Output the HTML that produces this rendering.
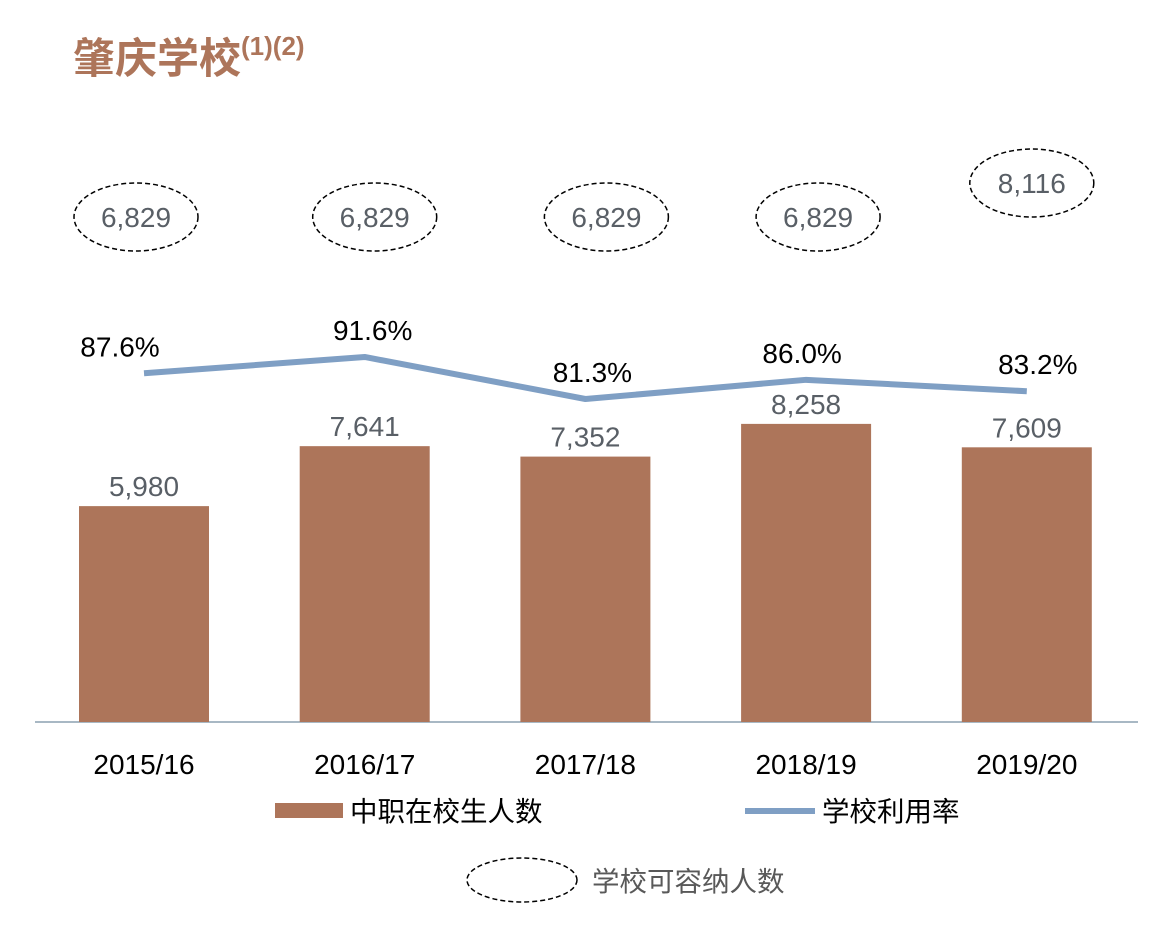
<!DOCTYPE html>
<html><head><meta charset="utf-8"><style>
body{margin:0;background:#fff;width:1158px;height:930px;overflow:hidden}
svg text{font-family:"Liberation Sans","Noto Sans CJK SC",sans-serif}
</style></head><body>
<svg id="chart" width="1158" height="930" xmlns="http://www.w3.org/2000/svg">
<text x="73" y="73" font-size="42" font-weight="bold" fill="#AD755A">肇庆学校<tspan font-size="26" dy="-18">(1)(2)</tspan></text>
<line x1="35" y1="722" x2="1138" y2="722" stroke="#A8B8C4" stroke-width="2"/>
<g id="bars"></g><g id="line"></g><g id="caps"></g><g id="xlabels"></g>
<g>
<rect x="275" y="803" width="68" height="15" fill="#AD755A"/>
<text x="350" y="821" font-size="27.5" fill="#000">中职在校生人数</text>
<line x1="745" y1="811" x2="815" y2="811" stroke="#7F9FC4" stroke-width="6"/>
<text x="822" y="821" font-size="27.5" fill="#000">学校利用率</text>
<ellipse cx="522" cy="880" rx="55" ry="22" fill="none" stroke="#000" stroke-width="1.5" stroke-dasharray="5,3"/>
<text x="592" y="891" font-size="27.5" fill="#595959">学校可容纳人数</text>
</g>
</svg>
<script>
const categories=["2015/16","2016/17","2017/18","2018/19","2019/20"];
const enrollment=[5980,7641,7352,8258,7609];
const utilization=[87.6,91.6,81.3,86.0,83.2];
const capacity=[6829,6829,6829,6829,8116];
const NS="http://www.w3.org/2000/svg";
const xC=i=>144+i*220.7;
const yBar=v=>722-v*0.0361;
const yLine=v=>730.7-v*4.08;
const yCap=v=>217-(v-6829)*0.0264;
const fmt=v=>v.toLocaleString("en-US");
function mk(tag,attrs,parent,txt){const e=document.createElementNS(NS,tag);for(const k in attrs)e.setAttribute(k,attrs[k]);if(txt!==undefined)e.textContent=txt;document.getElementById(parent).appendChild(e);return e;}
enrollment.forEach((v,i)=>{
  const r=mk("rect",{x:xC(i)-65,y:yBar(v),width:130,height:722-yBar(v),fill:"#AD755A"},"bars");
  
  
  const t=mk("text",{x:xC(i),y:yBar(v)-10,"font-size":28,fill:"#595F66","text-anchor":"middle"},"bars",fmt(v));
  
  
});
const pts=utilization.map((v,i)=>xC(i)+","+yLine(v)).join(" ");
const pl=mk("polyline",{points:pts,fill:"none",stroke:"#7F9FC4","stroke-width":6,"stroke-linejoin":"round"},"line");


utilization.forEach((v,i)=>{
  const t=mk("text",{x:xC(i)+[-24,8,7,-4,11][i],y:yLine(v)-17,"font-size":28,fill:"#000","text-anchor":"middle"},"line",v.toFixed(1)+"%");
  
  
});
capacity.forEach((v,i)=>{
  const cx=xC(i)+[-8,10,21,12,5][i], cy=yCap(v);
  const e=mk("ellipse",{cx:cx,cy:cy,rx:62,ry:34,fill:"none",stroke:"#000","stroke-width":1.5,"stroke-dasharray":"5,3"},"caps");
  
  
  const t=mk("text",{x:cx,y:cy+10,"font-size":28,fill:"#595F66","text-anchor":"middle"},"caps",fmt(v));
  
  
});
categories.forEach((c,i)=>{
  const t=mk("text",{x:xC(i),y:774,"font-size":28,fill:"#000","text-anchor":"middle"},"xlabels",c);
  
  
});
</script>
</body></html>
